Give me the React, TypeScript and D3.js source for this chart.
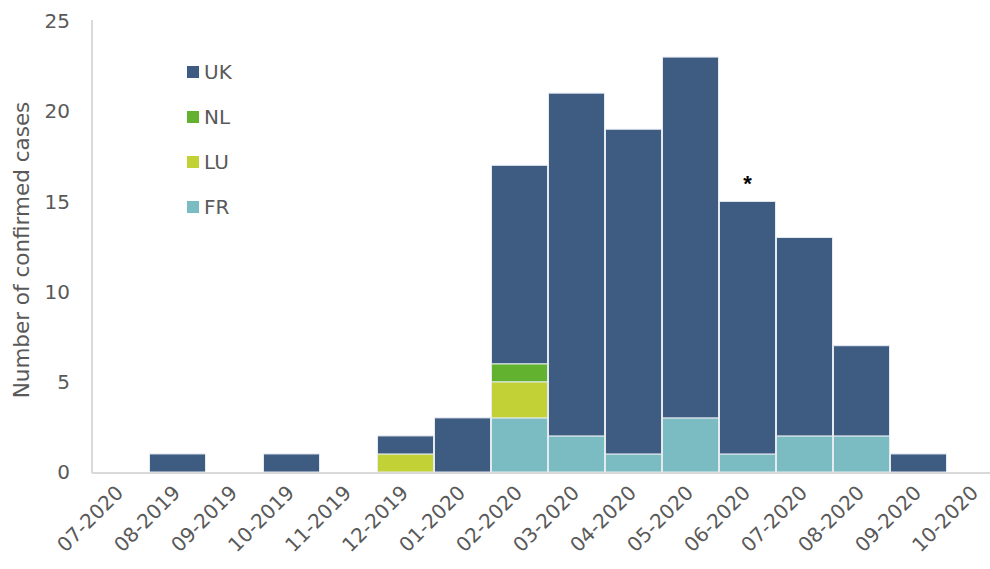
import React, { useEffect, useRef } from 'react';
import * as d3 from 'd3';

const months = ['07-2020', '08-2019', '09-2019', '10-2019', '11-2019', '12-2019', '01-2020', '02-2020',
  '03-2020', '04-2020', '05-2020', '06-2020', '07-2020', '08-2020', '09-2020', '10-2020'];
const fr = [0, 0, 0, 0, 0, 0, 0, 3, 2, 1, 3, 1, 2, 2, 0, 0];
const lu = [0, 0, 0, 0, 0, 1, 0, 2, 0, 0, 0, 0, 0, 0, 0, 0];
const nl = [0, 0, 0, 0, 0, 0, 0, 1, 0, 0, 0, 0, 0, 0, 0, 0];
const uk = [0, 1, 0, 1, 0, 1, 3, 11, 19, 18, 20, 14, 11, 5, 1, 0];
const yTicks = [0, 5, 10, 15, 20, 25];

const seriesKeys = ['FR', 'LU', 'NL', 'UK'];
const colors: Record<string, string> = { UK: '#3e5b82', NL: '#62b22f', LU: '#c2d135', FR: '#7bbcc3' };
const legendOrder = ['UK', 'NL', 'LU', 'FR'];

export default function App() {
  const svgRef = useRef<SVGSVGElement>(null);

  useEffect(() => {
    document.body.style.margin = '0';
    const svg = d3.select(svgRef.current);
    svg.selectAll('*').remove();

    const left = 92, top = 21, bottom = 472;
    const step = 57;
    const rows = months.map((m, i) => ({ i, month: m, FR: fr[i], LU: lu[i], NL: nl[i], UK: uk[i] }));

    const x = d3.scaleBand<number>()
      .domain(rows.map(r => r.i))
      .range([left, left + step * months.length])
      .padding(0);
    const y = d3.scaleLinear().domain([0, 25]).range([bottom, top]);

    const font = 'Tahoma, "DejaVu Sans", Verdana, sans-serif';
    const grey = '#595959';

    // axes lines
    svg.append('line')
      .attr('x1', left).attr('x2', left).attr('y1', top - 1).attr('y2', bottom + 1)
      .attr('stroke', '#d9d9d9').attr('stroke-width', 2);

    const stack = d3.stack<any>().keys(seriesKeys)(rows);
    svg.append('g').selectAll('g')
      .data(stack)
      .join('g')
      .attr('fill', d => colors[d.key])
      .selectAll('rect')
      .data(d => d.filter(p => p[1] - p[0] > 0))
      .join('rect')
      .attr('x', d => x(d.data.i)! + 0.5)
      .attr('width', x.bandwidth() - 1)
      .attr('y', d => y(d[1]))
      .attr('height', d => y(d[0]) - y(d[1]))
      .attr('stroke', '#e4eaf0')
      .attr('stroke-width', 1);

    svg.append('line')
      .attr('x1', left).attr('x2', 990).attr('y1', bottom + 1).attr('y2', bottom + 1)
      .attr('stroke', '#d9d9d9').attr('stroke-width', 2);

    // y ticks
    svg.append('g').selectAll('text')
      .data(yTicks)
      .join('text')
      .attr('x', 70)
      .attr('y', d => y(d))
      .attr('dy', '0.36em')
      .attr('text-anchor', 'end')
      .attr('fill', grey)
      .style('font-family', font)
      .style('font-size', '20px')
      .text(d => d);

    // x labels
    svg.append('g').selectAll('text')
      .data(rows)
      .join('text')
      .attr('transform', d => `translate(${x(d.i)! + x.bandwidth() / 2 - 1},${bottom + 17}) rotate(-45)`)
      .attr('text-anchor', 'end')
      .attr('dy', '0.36em')
      .attr('fill', grey)
      .style('font-family', font)
      .style('font-size', '20px')
      .text(d => d.month);

    // y title
    svg.append('text')
      .attr('transform', `translate(29,250) rotate(-90)`)
      .attr('text-anchor', 'middle')
      .attr('fill', grey)
      .style('font-family', font)
      .style('font-size', '21.5px')
      .text('Number of confirmed cases');

    // legend
    const lg = svg.append('g').selectAll('g')
      .data(legendOrder)
      .join('g')
      .attr('transform', (d, i) => `translate(187,${72 + i * 45})`);
    lg.append('rect')
      .attr('x', 0).attr('y', -6).attr('width', 12).attr('height', 12)
      .attr('fill', d => colors[d]);
    lg.append('text')
      .attr('x', 17).attr('dy', '0.36em')
      .attr('fill', grey)
      .style('font-family', font)
      .style('font-size', '20px')
      .text(d => d);

    // asterisk on 06-2020
    svg.append('text')
      .attr('x', x(11)! + x.bandwidth() / 2)
      .attr('y', y(15) - 10)
      .attr('text-anchor', 'middle')
      .attr('fill', '#000')
      .style('font-family', 'Arial, "Liberation Sans", sans-serif')
      .style('font-size', '22px')
      .style('font-weight', 'bold')
      .text('*');
  }, []);

  return <svg ref={svgRef} width={990} height={569} style={{ display: 'block' }} />;
}
